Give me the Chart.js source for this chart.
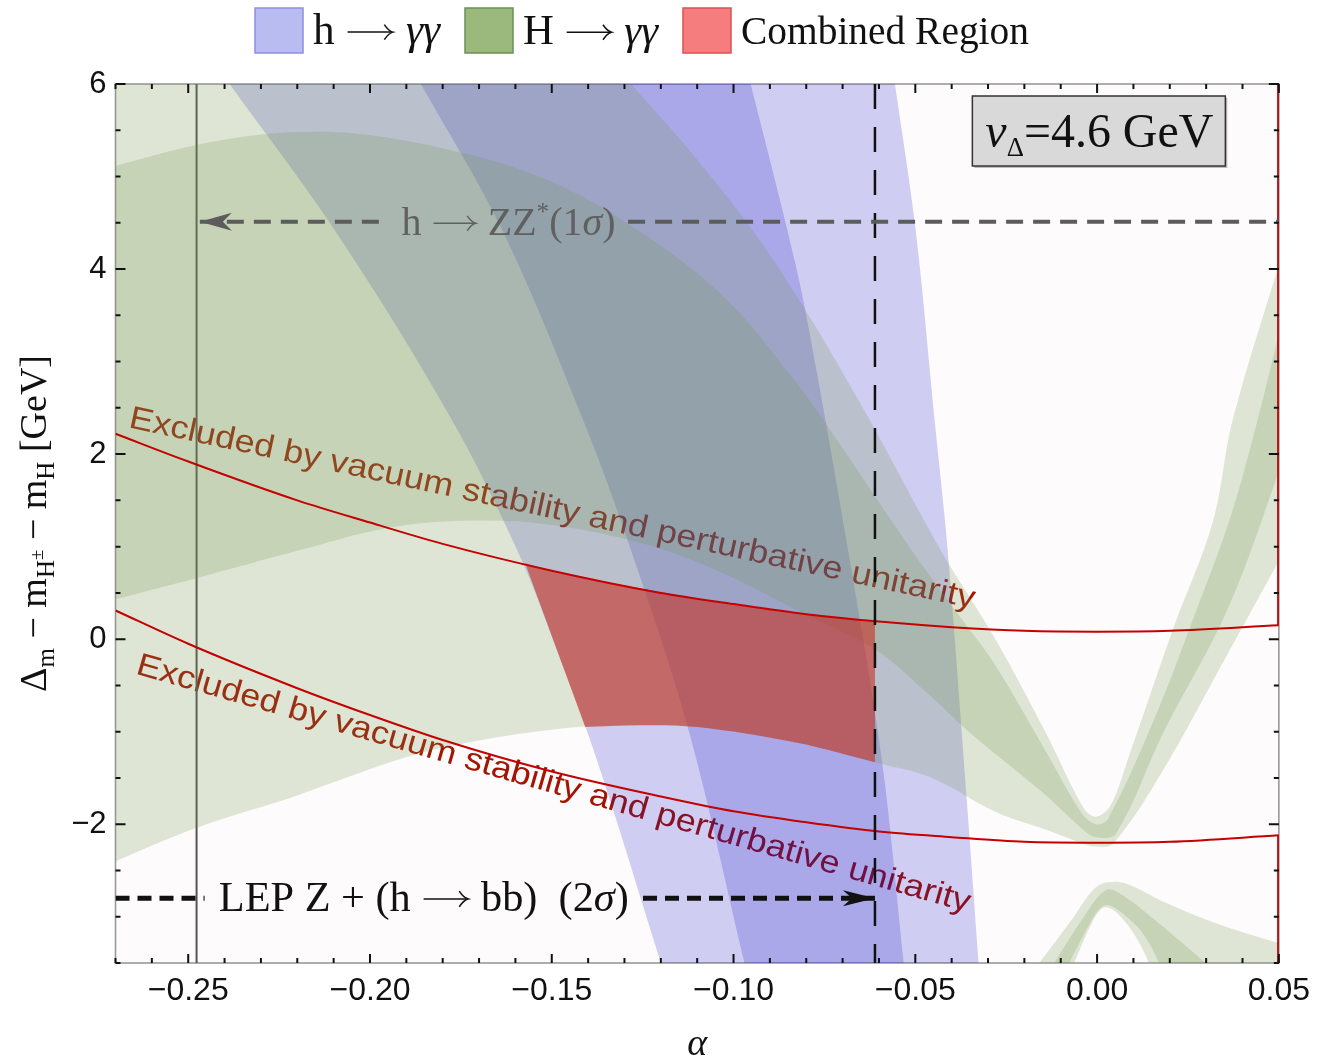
<!DOCTYPE html>
<html>
<head>
<meta charset="utf-8">
<title>Delta m vs alpha</title>
<script src="https://cdn.jsdelivr.net/npm/chart.js@4.4.1/dist/chart.umd.min.js"></script>
<style>
  html, body { margin: 0; padding: 0; background: #fff; }
  #wrap { width: 1319px; height: 1058px; }
</style>
</head>
<body>
<div id="wrap"><canvas id="c" width="1319" height="1058"></canvas></div>
<script>
// axis ticks
const xTicks = [-0.25, -0.20, -0.15, -0.10, -0.05, 0.00, 0.05];
const yTicks = [-2, 0, 2, 4, 6];

// h -> yy bands, outline as [alpha, delta_m]
const hggOuter = [
  [-0.2386, 6.00], [-0.2085, 4.35], [-0.1775, 2.37], [-0.1595, 0.96], [-0.1496, -0.01], [-0.1378, -1.28], [-0.1200, -3.50],
  [-0.0326, -3.50], [-0.0359, -1.71], [-0.0411, 0.96], [-0.0447, 2.37], [-0.0499, 4.42], [-0.0556, 6.00]
];
const hggOuterCorners = [0, 6, 7, 12];
const hggInner = [
  [-0.1860, 6.00], [-0.1636, 4.42], [-0.1414, 2.37], [-0.1282, 0.96], [-0.1126, -0.95], [-0.0970, -3.50],
  [-0.0532, -3.50], [-0.0592, -1.31], [-0.0685, 0.96], [-0.0803, 3.56], [-0.0852, 4.42], [-0.0953, 6.00]
];
const hggInnerCorners = [0, 5, 6, 11];

// H -> yy bands (arc + V branch, and the small lower branch)
const HggOuter = [
  [-0.28, 6.2], [-0.135, 6.2], [-0.1282, 6.00], [-0.1123, 5.29], [-0.0948, 4.42], [-0.0803, 3.56], [-0.0633, 2.42],
  [-0.0430, 0.96], [-0.0277, -0.02], [-0.0140, -1.02], [-0.0038, -1.82], [-0.0003, -1.92], [0.0038, -1.79],
  [0.0088, -1.26], [0.0208, 0.10], [0.0318, 1.26], [0.0373, 2.37], [0.052, 4.30], [0.052, 0.99], [0.0362, -0.14],
  [0.0181, -1.42], [0.0044, -2.21], [-0.0003, -2.24], [-0.0038, -2.21], [-0.0140, -2.06], [-0.0277, -1.87],
  [-0.0460, -1.49], [-0.0614, -1.33], [-0.0825, -1.12], [-0.1099, -0.95], [-0.1263, -0.93], [-0.1430, -0.95],
  [-0.1693, -1.09], [-0.1904, -1.28], [-0.2216, -1.71], [-0.2479, -2.04], [-0.28, -2.57]
];
const HggOuterCorners = [0, 1, 2, 17, 18, 36];
const HggInner = [
  [-0.28, 5.01], [-0.2414, 5.39], [-0.2104, 5.48], [-0.1784, 5.29], [-0.1510, 4.96], [-0.1263, 4.42], [-0.1027, 3.70],
  [-0.0833, 2.80], [-0.0734, 2.26], [-0.0510, 0.96], [-0.0386, 0.29], [-0.0277, -0.30], [-0.0140, -1.22],
  [-0.0044, -1.87], [-0.0003, -2.00], [0.0030, -1.94], [0.0162, -0.82], [0.0271, 0.29], [0.0362, 1.26],
  [0.0427, 2.15], [0.052, 3.62], [0.052, 2.03], [0.0362, 0.35], [0.0181, -1.02], [0.0052, -2.10], [-0.0003, -2.14],
  [-0.0044, -2.04], [-0.0140, -1.69], [-0.0277, -1.25], [-0.0359, -0.98], [-0.0468, -0.58], [-0.0614, -0.10],
  [-0.0825, 0.31], [-0.1016, 0.69], [-0.1236, 1.02], [-0.1510, 1.24], [-0.1737, 1.28], [-0.1956, 1.20],
  [-0.2195, 0.96], [-0.2468, 0.67], [-0.28, 0.33]
];
const HggInnerCorners = [0, 20, 21, 40];
const HggLowOuter = [
  [-0.0178, -3.6], [-0.0066, -3.01], [-0.0011, -2.71], [0.0025, -2.63], [0.0079, -2.64], [0.0189, -2.85],
  [0.0326, -3.07], [0.052, -3.31], [0.052, -3.6], [0.0155, -3.6], [0.0107, -3.22], [0.0052, -2.95],
  [0.0019, -2.90], [-0.0011, -3.04], [-0.0074, -3.6]
];
const HggLowOuterCorners = [0, 7, 8, 9, 14];
const HggLowInner = [
  [-0.0134, -3.6], [-0.0038, -3.01], [0.0025, -2.71], [0.0071, -2.77], [0.0170, -3.07], [0.0236, -3.29],
  [0.0328, -3.6], [0.0184, -3.6], [0.0126, -3.18], [0.0052, -2.91], [0.0019, -2.88], [-0.0011, -3.01], [-0.0090, -3.6]
];
const HggLowInnerCorners = [0, 6, 7, 12];

// combined allowed region
const combined = [
  [-0.1573, 0.82], [-0.15, 0.74], [-0.13, 0.58], [-0.11, 0.44], [-0.09, 0.32], [-0.075, 0.25], [-0.0611, 0.19],
  [-0.0611, -1.33], [-0.0825, -1.12], [-0.1099, -0.95], [-0.1263, -0.93], [-0.1408, -0.95], [-0.1496, -0.01]
];
const combinedCorners = [0, 6, 7, 11];

// vacuum stability / unitarity limits
const vacAlpha = [-0.27, -0.25, -0.22, -0.20, -0.18, -0.15, -0.12, -0.10, -0.08, -0.06, -0.04, -0.02, 0, 0.02, 0.05];
const vacUpper = [2.22, 1.92, 1.50, 1.26, 1.03, 0.74, 0.50, 0.38, 0.27, 0.19, 0.13, 0.09, 0.08, 0.09, 0.15];
const vacLower = [0.31, -0.05, -0.53, -0.82, -1.09, -1.43, -1.70, -1.86, -1.98, -2.08, -2.14, -2.19, -2.20, -2.19, -2.12];

// reference lines
const alphaZZ = -0.2477;      // solid vertical
const alphaLEP = -0.0611;     // dashed vertical
const zzLevel = 4.51;
const zzLeft = [-0.2468, -0.1948];
const zzRight = [-0.1290, 0.05];
const lepLevel = -2.80;
const lepLeft = [-0.27, -0.2455];
const lepRight = [-0.1249, -0.0611];

const SANS = "'Liberation Sans', Arial, sans-serif";
const SERIF = "'Liberation Serif', 'Times New Roman', serif";
const BLUE = 'rgba(8,8,197,0.19)';
const GREEN = 'rgba(114,150,78,0.22)';
const RED = 'rgba(203,39,26,0.57)';

// corner points are doubled so the spline keeps them sharp
function pts(arr, corners) {
  const out = [];
  arr.forEach(([x, y], i) => {
    out.push({ x, y });
    if (corners && corners.indexOf(i) >= 0) out.push({ x, y });
  });
  return out;
}
function band(label, arr, corners, color, order) {
  return { label, data: pts(arr, corners), fill: 'shape', backgroundColor: color, borderColor: 'rgba(0,0,0,0)',
    borderWidth: 0, pointRadius: 0, tension: 0.35, order };
}
function seg(label, xs, ys, color, width, order, dash) {
  return { label, data: xs.map((x, i) => ({ x, y: ys[i] })), borderColor: color, borderWidth: width,
    borderDash: dash || [], pointRadius: 0, fill: false, tension: 0, order, borderCapStyle: 'butt' };
}
function fmt(v, d) { return (v < -1e-9 ? '\u2212' : '') + Math.abs(v).toFixed(d); }

const datasets = [
  seg('vline', [alphaZZ, alphaZZ], [-3.5, 6], '#555', 2, 9),
  band('h->yy outer', hggOuter, hggOuterCorners, BLUE, 8),
  band('h->yy inner', hggInner, hggInnerCorners, BLUE, 7),
  band('H->yy outer', HggOuter, HggOuterCorners, GREEN, 6),
  band('H->yy inner', HggInner, HggInnerCorners, GREEN, 5),
  band('H->yy low outer', HggLowOuter, HggLowOuterCorners, GREEN, 4),
  band('H->yy low inner', HggLowInner, HggLowInnerCorners, GREEN, 4),
  band('combined', combined, combinedCorners, RED, 3),
  Object.assign(seg('upper limit', vacAlpha, vacUpper, '#c40000', 2, 1), { cubicInterpolationMode: 'monotone' }),
  Object.assign(seg('lower limit', vacAlpha, vacLower, '#c40000', 2, 1), { cubicInterpolationMode: 'monotone' }),
  seg('edge top', [0.05, 0.05], [6, vacUpper[vacUpper.length - 1]], '#c40000', 3.5, 1),
  seg('edge bottom', [0.05, 0.05], [vacLower[vacLower.length - 1], -3.5], '#c40000', 3.5, 1),
  seg('zz left', zzLeft, [zzLevel, zzLevel], '#5c5c5c', 4, 0, [17, 10]),
  seg('zz right', zzRight, [zzLevel, zzLevel], '#5c5c5c', 4, 0, [17, 10]),
  seg('lep left', lepLeft, [lepLevel, lepLevel], '#111', 5, 0, [14, 8]),
  seg('lep right', lepRight, [lepLevel, lepLevel], '#111', 5, 0, [14, 8]),
  seg('lep vline', [alphaLEP, alphaLEP], [6, -3.5], '#111', 2.5, 0, [25, 18])
];

function fitText(ctx, str, x, y, deg, len, font, color) {
  ctx.save();
  ctx.translate(x, y);
  ctx.rotate(deg * Math.PI / 180);
  ctx.font = font;
  ctx.fillStyle = color;
  ctx.textBaseline = 'alphabetic';
  const w = ctx.measureText(str).width;
  ctx.scale(len / w, 1);
  ctx.fillText(str, 0, 0);
  ctx.restore();
}
function arrowHead(ctx, x, y, dir, len, half, color) {
  ctx.save();
  ctx.translate(x, y);
  ctx.scale(dir, 1);
  ctx.fillStyle = color;
  ctx.beginPath();
  ctx.moveTo(0, 0);
  ctx.lineTo(-len, -half);
  ctx.lineTo(-len * 0.72, 0);
  ctx.lineTo(-len, half);
  ctx.closePath();
  ctx.fill();
  ctx.restore();
}

// rich text: parts are [text, fontSpec, dy] or ['->', width]; drawn on a baseline, fitted to width
function richWidth(ctx, parts) {
  let w = 0;
  parts.forEach(p => {
    if (p[0] === '->') { w += p[1]; return; }
    ctx.font = p[1];
    w += ctx.measureText(p[0]).width;
  });
  return w;
}
function drawRich(ctx, parts, x, y, width, color, align) {
  const nat = richWidth(ctx, parts);
  const k = width ? width / nat : 1;
  ctx.save();
  ctx.translate(x, y);
  ctx.scale(k, k);
  ctx.fillStyle = color;
  ctx.strokeStyle = color;
  ctx.textAlign = 'left';
  ctx.textBaseline = 'alphabetic';
  let px = align === 'center' ? -nat / 2 : 0;
  parts.forEach(p => {
    if (p[0] === '->') {
      const w = p[1], h = p[2] || 11;
      ctx.lineWidth = 1.4;
      ctx.beginPath();
      ctx.moveTo(px + 2, -h);
      ctx.lineTo(px + w - 3, -h);
      ctx.stroke();
      ctx.beginPath();
      ctx.moveTo(px + w - 10, -h - 7);
      ctx.quadraticCurveTo(px + w - 6, -h - 1, px + w - 2, -h);
      ctx.quadraticCurveTo(px + w - 6, -h + 1, px + w - 10, -h + 7);
      ctx.stroke();
      px += w;
      return;
    }
    ctx.font = p[1];
    ctx.fillText(p[0], px, p[2] || 0);
    px += ctx.measureText(p[0]).width;
  });
  ctx.restore();
}

const EXCL = 'Excluded by vacuum stability and perturbative unitarity';

const backdrop = {
  id: 'backdrop',
  beforeDatasetsDraw(chart) {
    const { ctx, chartArea: a } = chart;
    const xs = chart.scales.x, ys = chart.scales.y;
    ctx.save();
    ctx.fillStyle = '#fdfbfc';
    ctx.fillRect(a.left, a.top, a.right - a.left, a.bottom - a.top);
    ctx.strokeStyle = '#9a9a9a';
    ctx.lineWidth = 1.6;
    ctx.strokeRect(a.left, a.top, a.right - a.left, a.bottom - a.top);
    ctx.beginPath();
    ctx.rect(a.left, a.top, a.right - a.left, a.bottom - a.top);
    ctx.clip();
    fitText(ctx, EXCL, xs.getPixelForValue(-0.2666), ys.getPixelForValue(2.29), 12.1, 864,
      '32px ' + SANS, 'rgb(165,20,2)');
    fitText(ctx, EXCL, xs.getPixelForValue(-0.2647), ys.getPixelForValue(-0.37), 16.0, 866,
      '32px ' + SANS, 'rgb(165,20,2)');
    ctx.restore();
  }
};

const overlay = {
  id: 'overlay',
  afterDatasetsDraw(chart) {
    const { ctx, chartArea: a } = chart;
    const xs = chart.scales.x, ys = chart.scales.y;
    ctx.save();
    arrowHead(ctx, xs.getPixelForValue(zzLeft[0]), ys.getPixelForValue(zzLevel), -1, 32, 9, '#5c5c5c');
    arrowHead(ctx, xs.getPixelForValue(lepRight[1]), ys.getPixelForValue(lepLevel), 1, 32, 8, '#111');

    const f = '38px ' + SERIF, fi = 'italic 38px ' + SERIF, fs = '24px ' + SERIF;
    const zx = (xs.getPixelForValue(zzLeft[1]) + xs.getPixelForValue(zzRight[0])) / 2;
    drawRich(ctx, [['h ', f], ['->', 44], [' ZZ', f], ['*', fs, -14], ['(1', f], ['\u03c3', fi], [')', f]],
      zx, ys.getPixelForValue(zzLevel) + 13, 214, '#606060', 'center');
    const lx = (xs.getPixelForValue(lepLeft[1]) + xs.getPixelForValue(lepRight[0])) / 2;
    drawRich(ctx, [['LEP Z + (h ', f], ['->', 44], [' bb)  (2', f], ['\u03c3', fi], [')', f]],
      lx, ys.getPixelForValue(lepLevel) + 13, 410, '#111', 'center');

    // v_Delta box
    const bx = a.right - 306.5, by = a.top + 12, bw = 253, bh = 70;
    ctx.fillStyle = 'rgba(0,0,0,0.25)';
    ctx.fillRect(bx + 2, by + 2, bw, bh);
    ctx.fillStyle = '#d9d9d9';
    ctx.fillRect(bx, by, bw, bh);
    ctx.strokeStyle = '#333';
    ctx.lineWidth = 1.5;
    ctx.strokeRect(bx, by, bw, bh);
    drawRich(ctx, [['v', 'italic 50px ' + SERIF], ['\u0394', '28px ' + SERIF, 9], ['=4.6 GeV', '50px ' + SERIF]],
      bx + 13, by + 51, 228, '#111', 'left');
    ctx.restore();
  }
};

const frame = {
  id: 'frame',
  afterDraw(chart) {
    const { ctx, chartArea: a } = chart;
    const xs = chart.scales.x, ys = chart.scales.y;
    ctx.save();
    ctx.strokeStyle = '#111';
    ctx.lineWidth = 2;
    ctx.beginPath();
    for (let i = 0; i <= 32; i++) {
      const v = Math.round((-0.27 + i * 0.01) * 100) / 100;
      const major = xTicks.some(t => Math.abs(t - v) < 1e-6);
      const len = major ? 9 : 5;
      const px = xs.getPixelForValue(v);
      ctx.moveTo(px, a.bottom); ctx.lineTo(px, a.bottom - len);
      ctx.moveTo(px, a.top); ctx.lineTo(px, a.top + len);
    }
    for (let i = 0; i <= 19; i++) {
      const v = -3.5 + i * 0.5;
      const major = yTicks.indexOf(v) >= 0;
      const len = major ? 10 : 5;
      const py = ys.getPixelForValue(v);
      ctx.moveTo(a.left, py); ctx.lineTo(a.left + len, py);
      ctx.moveTo(a.right, py); ctx.lineTo(a.right - len, py);
    }
    ctx.stroke();

    // legend
    const f = '40px ' + SERIF, fi = 'italic 40px ' + SERIF;
    const legend = [
      { x: 255, fill: 'rgb(184,188,240)', edge: 'rgb(140,144,225)', parts: [['h ', f], ['->', 46], [' \u03b3\u03b3', fi]], w: 127 },
      { x: 465, fill: 'rgb(155,185,125)', edge: 'rgb(105,145,85)', parts: [['H ', f], ['->', 46], [' \u03b3\u03b3', fi]], w: 135 },
      { x: 683, fill: 'rgb(245,125,125)', edge: 'rgb(222,80,80)', parts: [['Combined Region', f]], w: 288 }
    ];
    legend.forEach(it => {
      ctx.fillStyle = it.fill;
      ctx.fillRect(it.x, 8, 48, 45);
      ctx.strokeStyle = it.edge;
      ctx.lineWidth = 1.5;
      ctx.strokeRect(it.x, 8, 48, 45);
      drawRich(ctx, it.parts, it.x + 58, 44, it.w, '#111', 'left');
    });

    // axis titles
    ctx.fillStyle = '#111';
    ctx.font = 'italic 38px ' + SERIF;
    ctx.textAlign = 'center';
    ctx.textBaseline = 'alphabetic';
    ctx.fillText('\u03b1', (a.left + a.right) / 2, 1055);

    const parts = [['\u0394', 0, 38], ['m', 8, 25], [' \u2212 m', 0, 38], ['H', 8, 25], ['\u00b1', -3, 19],
      [' \u2212 m', 0, 38], ['H', 8, 25], [' [GeV]', 0, 38]];
    let total = 0;
    parts.forEach(p => { ctx.font = p[2] + 'px ' + SERIF; total += ctx.measureText(p[0]).width; });
    ctx.translate(46, (a.top + a.bottom) / 2);
    ctx.rotate(-Math.PI / 2);
    ctx.textAlign = 'left';
    let px = -total / 2;
    parts.forEach(p => {
      ctx.font = p[2] + 'px ' + SERIF;
      ctx.fillText(p[0], px, p[1]);
      px += ctx.measureText(p[0]).width;
    });
    ctx.restore();
  }
};

new Chart(document.getElementById('c'), {
  type: 'line',
  data: { datasets },
  options: {
    responsive: false,
    animation: false,
    events: [],
    elements: { line: { capBezierPoints: false } },
    layout: { padding: { top: 84, right: 35.5, left: 0, bottom: 0 } },
    plugins: { legend: { display: false }, tooltip: { enabled: false } },
    scales: {
      x: {
        type: 'linear', min: -0.27, max: 0.05,
        grid: { display: false, drawTicks: false }, border: { display: false },
        afterBuildTicks: s => { s.ticks = xTicks.map(value => ({ value })); },
        afterFit: s => { s.height = 95; },
        ticks: { font: { family: SANS, size: 32 }, color: '#111', padding: 9, maxRotation: 0, autoSkip: false,
          callback: v => fmt(v, 2) }
      },
      y: {
        type: 'linear', min: -3.5, max: 6,
        grid: { display: false, drawTicks: false }, border: { display: false },
        afterBuildTicks: s => { s.ticks = yTicks.map(value => ({ value })); },
        afterFit: s => { s.width = 115.5; },
        ticks: { font: { family: SANS, size: 31 }, color: '#111', padding: 9, autoSkip: false,
          callback: v => fmt(v, 0) }
      }
    }
  },
  plugins: [backdrop, overlay, frame]
});
</script>
</body>
</html>
